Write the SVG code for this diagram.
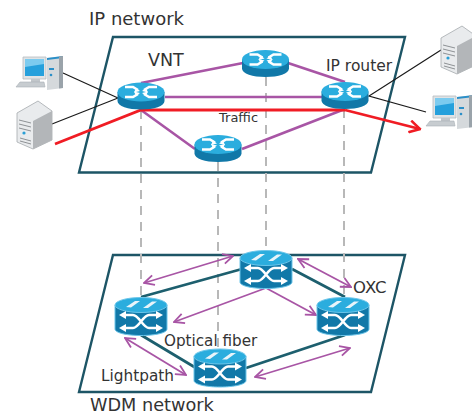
<svg xmlns="http://www.w3.org/2000/svg" width="472" height="415" viewBox="0 0 472 415">
<style>
text{font-family:"DejaVu Sans",Verdana,sans-serif;fill:#333}
.plane{fill:#fff;stroke:#1d5566;stroke-width:2.4}
.dash{stroke:#b8b8b8;stroke-width:2;stroke-dasharray:9 7;fill:none}
.vnt{stroke:#a855a5;stroke-width:2.6;fill:none}
.blk{stroke:#1a1a1a;stroke-width:1.2;fill:none}
.fib{stroke:#1d5f6e;stroke-width:2.8;fill:none}
.lp{stroke:#a855a5;stroke-width:1.8;fill:none;marker-start:url(#lpa);marker-end:url(#lpa)}
.lp1{stroke:#a855a5;stroke-width:1.8;fill:none;marker-end:url(#lpa)}
.rd{stroke:#f01c24;stroke-width:2.8;fill:none}
</style>
<defs>
<marker id="lpa" viewBox="0 0 12 12" refX="11" refY="6" markerWidth="12" markerHeight="12" orient="auto-start-reverse" markerUnits="userSpaceOnUse"><path d="M1 1L11 6L1 11" fill="none" stroke="#a855a5" stroke-width="1.8"/></marker>
<marker id="rda" viewBox="0 0 14 14" refX="12.5" refY="7" markerWidth="14" markerHeight="14" orient="auto" markerUnits="userSpaceOnUse"><path d="M2 1L12.5 7L2 13" fill="none" stroke="#f01c24" stroke-width="2.6"/></marker>
<g id="router">
<path d="M-23.5 -4V5C-23.5 10 -13 13.5 0 13.5S23.5 10 23.5 5V-4Z" fill="#1178a8"/>
<ellipse cx="0" cy="-4" rx="23.5" ry="9.5" fill="#2badde"/>
<g stroke="#fff" stroke-width="2.6" fill="none">
<path d="M-16 -9H-8L-3 -6"/><path d="M16 -9H8L3 -6"/><path d="M-16 1H-8L-3 -2"/><path d="M16 1H8L3 -2"/>
</g>
<g fill="#fff"><path d="M-1 -5L-7 -3.500L-5 -8Z"/><path d="M1 -5L7 -3.500L5 -8Z"/><path d="M-1 -3L-7 -4.500L-5 0Z"/><path d="M1 -3L7 -4.500L5 0Z"/></g>
</g>
<g id="oxc">
<path d="M-26 -11V13C-26 17 -14 19.5 0 19.5S26 17 26 13V-11Z" fill="#1178a8" stroke="#6cc6ea" stroke-width="1"/>
<ellipse cx="0" cy="-11" rx="26" ry="7.5" fill="#2badde" stroke="#6cc6ea" stroke-width="1"/>
<path d="M-15 -9L-6 -15H-1L-10 -8.5Z M2 -8L11 -14.5H16L7 -8Z" fill="#e8f4fa"/>
<path d="M-18 -1H-8C-2 -1 2 12 8 12H18M-18 12H-8C-2 12 2 -1 8 -1H18" stroke="#fff" stroke-width="2.500" fill="none"/>
<g fill="#fff"><path d="M-22 -1L-15 -5V3Z"/><path d="M22 -1L15 -5V3Z"/><path d="M-22 12L-15 8V16Z"/><path d="M22 12L15 8V16Z"/></g>
</g>
<g id="pc">
<path d="M-17 -16H6V6H-17Z" fill="#e0e3e5" stroke="#b5bbc0" stroke-width=".8"/>
<rect x="-15" y="-14" width="19" height="17" fill="#25a0dc"/>
<path d="M-15 -14H4V-9L-15 -6Z" fill="#7ccbef"/>
<path d="M-9 6H0V9H-9Z" fill="#c2c7cb"/>
<path d="M7 -15L23 -17V15L7 17Z" fill="#d5d9dc"/>
<path d="M7 -15L23 -17V-15L7 -13Z" fill="#2a8fc8"/>
<path d="M19 -16.500L23 -17V15L19 15.500Z" fill="#9aa3aa"/>
<rect x="9" y="-5" width="5" height="2" fill="#2a8fc8"/>
<circle cx="11" cy="2" r="1.3" fill="#2a8fc8"/>
<path d="M-20 9H4L5 14H-24Z" fill="#c7ccd0" stroke="#aab0b5" stroke-width=".6"/>
</g>
<g id="srv">
<path d="M-18 -12L3 -24L17 -14V15L-2 24L-18 17Z" fill="#e9ebed" stroke="#a5a9ad" stroke-width=".8"/>
<path d="M-2 -4L17 -14V15L-2 24Z" fill="#b3b6b9"/>
<path d="M-16 -5L-4 -2M-16 -1L-4 2M-16 3L-4 6M-15 13L-4 16M-15 16L-4 19" stroke="#8e9295" stroke-width="1" fill="none"/>
<circle cx="-11" cy="8" r="1.6" fill="#2a9fd6"/>
</g>
</defs>
<g id="ip-plane"><path class="plane" d="M113 37H405L371 172.5H79Z"/></g>
<g id="wdm-plane"><path class="plane" d="M113 255H405L371 392H79Z"/></g>
<g id="connectors">
<path class="dash" d="M141 110V297M218 162V349M266 77V250M344 109V297"/>
<path class="blk" d="M63 73L118 98M52 124L118 98M441 50L369 96L426 112"/>
<path class="vnt" d="M141 83L243 63M165 97H322M288 63L345 82M141 110L195 149M242 149L345 109"/>
<path class="rd" d="M55 144L141 110H345"/>
<path class="rd" d="M345 110L420 129" marker-end="url(#rda)"/>
<path class="fib" d="M141 297L242 269M292 269L345 297M141 335L196 368M246 368L345 335"/>
<path class="lp" d="M233 256L144 283"/>
<path class="lp" d="M298 259L351 287"/>
<path class="lp" d="M125 338L186 375"/>
<path class="lp" d="M255 377L350 348"/>
<path class="lp1" d="M266 288L174 322"/>
<path class="lp1" d="M266 288L316 315"/>
</g>
<g id="r1"><use href="#router" x="141" y="96"/></g>
<g id="r2"><use href="#router" x="265.500" y="63.500"/></g>
<g id="r3"><use href="#router" x="345" y="95.500"/></g>
<g id="r4"><use href="#router" x="218" y="148.500"/></g>
<g id="o1"><use href="#oxc" x="266" y="269"/></g>
<g id="o2"><use href="#oxc" x="343" y="316"/></g>
<g id="o3"><use href="#oxc" x="220" y="367.500"/></g>
<g id="o4"><use href="#oxc" x="141" y="316"/></g>
<g id="pc1"><use href="#pc" x="40" y="73"/></g>
<g id="srv1"><use href="#srv" x="35" y="125"/></g>
<g id="srv2"><use href="#srv" x="459" y="50"/></g>
<g id="pc2"><use href="#pc" x="450" y="112"/></g>
<g id="labels">
<text x="89" y="25" font-size="18">IP network</text>
<text x="148" y="66" font-size="17.500">VNT</text>
<text x="326" y="71" font-size="15.500">IP router</text>
<text x="219" y="122" font-size="13">Traffic</text>
<text x="353" y="293" font-size="16.500">OXC</text>
<text x="164" y="346" font-size="15.200">Optical fiber</text>
<text x="101" y="381" font-size="15.300">Lightpath</text>
<text x="90" y="411" font-size="17.700">WDM network</text>
</g>
</svg>
